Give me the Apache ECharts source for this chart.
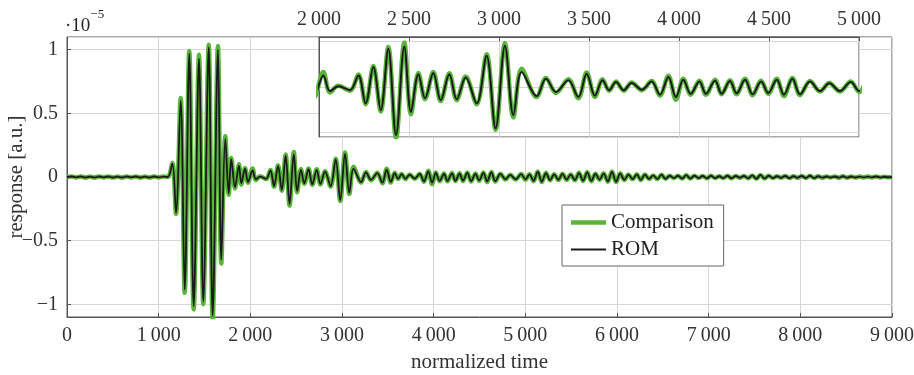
<!DOCTYPE html>
<html>
<head>
<meta charset="utf-8">
<script src="https://cdn.jsdelivr.net/npm/echarts@6/dist/echarts.min.js"></script>
<style>
  html, body { margin: 0; padding: 0; background: #fff; }
  #main { width: 914px; height: 375px; }
</style>
</head>
<body>
<div id="main"></div>
<script>
// response values are in units of 1e-5 (see the ·10^-5 mark)
// extrema, segment by segment
var time = [
  // quiet start
  0, 50, 100, 150, 200, 250, 300, 350, 400, 450, 500, 550, 600, 650, 700, 750, 800, 850, 900, 950, 1000, 1050, 1100,
  // main burst
  1149, 1189, 1240, 1284, 1334, 1382, 1440, 1487, 1546, 1589, 1647, 1683, 1727, 1764, 1792, 1833, 1876, 1902, 1942, 1975,
  // inset part
  2024, 2061, 2107, 2172, 2219, 2259, 2302, 2343, 2385, 2428,
  2474, 2511, 2552, 2589, 2635, 2676, 2724, 2765, 2815, 2876,
  2931, 2981, 3033, 3080, 3126, 3209, 3261, 3317, 3385, 3441,
  3487, 3533, 3575, 3612, 3650, 3693, 3737, 3793, 3848, 3894,
  3941, 3983, 4024, 4065, 4113, 4150, 4200, 4237, 4283, 4320,
  4367, 4409, 4456, 4496, 4543, 4583, 4630, 4672, 4728, 4783,
  4835, 4894, 4954, 5002,
  // tail
  5045, 5090, 5135, 5180, 5225, 5270, 5315, 5360, 5405, 5450,
  5495, 5540, 5585, 5630, 5675, 5720, 5765, 5810, 5855, 5900,
  5945, 5990, 6035, 6080, 6125, 6170, 6215, 6260, 6305, 6350,
  6395, 6440, 6485, 6530, 6575, 6620, 6665, 6710, 6755, 6800,
  6845, 6890, 6935, 6980, 7025, 7070, 7115, 7160, 7205, 7250,
  7295, 7340, 7385, 7430, 7475, 7520, 7565, 7610, 7655, 7700,
  7745, 7790, 7835, 7880, 7925, 7970, 8015, 8060, 8105, 8150,
  8195, 8240, 8285, 8330, 8375, 8420, 8465, 8510, 8555, 8600,
  8645, 8690, 8735, 8780, 8825, 8870, 8915, 8960, 9000
];

var rom = [
  0, 0.004, -0.003, 0.004, -0.004, 0.003, -0.004, 0.004, -0.003, 0.004, -0.004, 0.003, -0.004, 0.004, -0.003, 0.004, -0.004, 0.003, -0.004, 0.004, -0.003, 0.003, 0,
  0.105, -0.28, 0.6, -0.885, 0.97, -1.015, 0.93, -0.977, 1.02, -1.09, 1.0, -0.65, 0.3, -0.13, 0.14, -0.08, 0.09, -0.05, 0.065, -0.04,
  0.051, -0.018, 0.003, -0.014, 0.051, -0.072, 0.088, -0.102, 0.168, -0.212,
  0.178, -0.110, 0.056, -0.050, 0.062, -0.058, 0.056, -0.054, 0.042, -0.072,
  0.138, -0.182, 0.182, -0.124, 0.066, -0.040, 0.036, -0.022, 0.030, -0.044,
  0.058, -0.038, 0.030, -0.014, 0.022, -0.014, 0.018, -0.012, 0.024, -0.034,
  0.044, -0.044, 0.032, -0.030, 0.024, -0.030, 0.028, -0.030, 0.026, -0.028,
  0.032, -0.032, 0.024, -0.026, 0.032, -0.034, 0.036, -0.032, 0.024, -0.018,
  0.016, -0.018, 0.022, -0.018,
  0.020, -0.030, 0.040, -0.036, 0.030, -0.024, 0.020, -0.022, 0.024, -0.020,
  0.018, -0.024, 0.030, -0.028, 0.036, -0.030, 0.024, -0.020, 0.026, -0.034,
  0.040, -0.036, 0.026, -0.022, 0.018, -0.016, 0.020, -0.022, 0.018, -0.014,
  0.012, -0.016, 0.018, -0.014, 0.010, -0.008, 0.010, -0.012, 0.014, -0.012,
  0.010, -0.008, 0.008, -0.010, 0.010, -0.008, 0.006, -0.008, 0.010, -0.010,
  0.008, -0.006, 0.008, -0.010, 0.012, -0.014, 0.016, -0.012, 0.010, -0.008,
  0.006, -0.006, 0.008, -0.008, 0.006, -0.006, 0.008, -0.008, 0.010, -0.008,
  0.006, -0.005, 0.004, -0.004, 0.004, -0.005, 0.006, -0.005, 0.004, -0.004,
  0.003, -0.003, 0.003, -0.003, 0.004, -0.003, 0.002, -0.002, 0
];

var comparison = [
  0, 0.004, -0.003, 0.004, -0.004, 0.003, -0.004, 0.004, -0.003, 0.004, -0.004, 0.003, -0.004, 0.004, -0.003, 0.004, -0.004, 0.003, -0.004, 0.004, -0.003, 0.003, 0,
  0.11, -0.29, 0.62, -0.91, 0.99, -1.04, 0.96, -1.0, 1.04, -1.12, 1.03, -0.68, 0.32, -0.14, 0.15, -0.09, 0.10, -0.06, 0.07, -0.045,
  0.066, -0.024, 0.005, -0.016, 0.055, -0.076, 0.092, -0.108, 0.176, -0.225,
  0.196, -0.120, 0.062, -0.054, 0.066, -0.062, 0.060, -0.058, 0.046, -0.076,
  0.144, -0.188, 0.192, -0.134, 0.080, -0.044, 0.040, -0.026, 0.034, -0.050,
  0.064, -0.044, 0.034, -0.016, 0.024, -0.016, 0.020, -0.014, 0.026, -0.038,
  0.050, -0.056, 0.036, -0.034, 0.028, -0.034, 0.032, -0.032, 0.030, -0.032,
  0.036, -0.036, 0.028, -0.030, 0.036, -0.040, 0.040, -0.036, 0.026, -0.020,
  0.018, -0.020, 0.024, -0.022,
  0.022, -0.033, 0.044, -0.040, 0.033, -0.026, 0.022, -0.024, 0.026, -0.022,
  0.020, -0.026, 0.033, -0.031, 0.040, -0.033, 0.026, -0.022, 0.029, -0.037,
  0.044, -0.040, 0.029, -0.024, 0.020, -0.018, 0.022, -0.024, 0.020, -0.016,
  0.012, -0.016, 0.018, -0.014, 0.010, -0.008, 0.010, -0.012, 0.014, -0.012,
  0.010, -0.008, 0.008, -0.010, 0.010, -0.008, 0.006, -0.008, 0.010, -0.010,
  0.008, -0.006, 0.008, -0.010, 0.012, -0.014, 0.016, -0.012, 0.010, -0.008,
  0.006, -0.006, 0.008, -0.008, 0.006, -0.006, 0.008, -0.008, 0.010, -0.008,
  0.006, -0.005, 0.004, -0.004, 0.004, -0.005, 0.006, -0.005, 0.004, -0.004,
  0.003, -0.003, 0.003, -0.003, 0.004, -0.003, 0.002, -0.002, 0
];

var mainXRange = [0, 9000];
var mainYRange = [-1.1, 1.1];
var insetXRange = [2000, 5000];
var insetYRange = [-0.22, 0.22];

var font = 'Liberation Serif';
var green = '#5ab43c';
var black = '#1a1a1a';
var gridGray = '#d6d6d6';
var boxGray = '#555';

function pairs(vals) {
    return time.map(function (t, i) {
        return [t, vals[i]];
    });
}

function fmtX(v) {
    if (v < 1000) return '' + v;
    var k = Math.floor(v / 1000);
    var rest = ('' + (v % 1000 + 1000)).slice(1);
    return k + '\u2009' + rest;
}

function fmtY(v) {
    if (Math.abs(v * 2 - Math.round(v * 2)) > 1e-6) return '';
    var r = Math.round(v * 2) / 2;
    return r < 0 ? '\u2212' + (-r) : '' + r;
}

function lineSeries(name, vals, color, width, axis, z) {
    return {
        name: name,
        type: 'line',
        xAxisIndex: axis,
        yAxisIndex: axis,
        data: pairs(vals),
        symbol: 'none',
        showSymbol: false,
        smooth: 0.35,
        silent: true,
        z: z,
        lineStyle: { color: color, width: width },
        itemStyle: { color: color, borderWidth: 0 }
    };
}

var myChart = echarts.init(document.getElementById('main'));

var option = {
    animation: false,
    backgroundColor: '#fff',
    title: {
        text: '{a|\u00b710}{b|\u22125}',
        left: 65,
        top: 8,
        padding: 0,
        textStyle: {
            fontWeight: 'normal',
            rich: {
                a: { fontSize: 19, fontFamily: font, fontWeight: 'normal', color: '#222', lineHeight: 28, verticalAlign: 'bottom' },
                b: { fontSize: 13, fontFamily: font, fontWeight: 'normal', color: '#222', lineHeight: 13, verticalAlign: 'top' }
            }
        }
    },
    legend: {
        orient: 'vertical',
        left: 562,
        top: 205,
        padding: [7, 10, 6, 9],
        itemGap: 6,
        itemWidth: 35,
        itemHeight: 14,
        itemStyle: { borderWidth: 0 },
        backgroundColor: '#fff',
        borderColor: '#666',
        borderWidth: 1,
        borderRadius: 0,
        z: 20,
        textStyle: { fontFamily: font, fontSize: 21, color: '#222', lineHeight: 21 },
        data: [
            { name: 'Comparison', icon: 'path://M0,0H35V4.5H0Z' },
            { name: 'ROM', icon: 'path://M0,0H35V1.8H0Z' }
        ]
    },
    grid: [
        {
            left: 67, width: 825, top: 37, height: 280,
            show: true, borderColor: boxGray, borderWidth: 1,
            backgroundColor: 'transparent',
            outerBoundsMode: 'none', containLabel: false
        },
        {
            left: 319, width: 540, top: 37, height: 100,
            show: true, borderColor: boxGray, borderWidth: 1,
            backgroundColor: '#fff',
            outerBoundsMode: 'none', containLabel: false,
            z: 3
        }
    ],
    xAxis: [
        {
            type: 'value', gridIndex: 0,
            min: mainXRange[0], max: mainXRange[1], interval: 1000,
            name: 'normalized time', nameLocation: 'middle', nameGap: 35, nameMoveOverlap: false,
            nameTextStyle: { fontFamily: font, fontSize: 21, color: '#333' },
            axisLine: { show: true, onZero: false, lineStyle: { color: boxGray, width: 1 } },
            axisTick: { show: true, inside: true, length: 4, lineStyle: { color: boxGray } },
            axisLabel: { fontFamily: font, fontSize: 20, color: '#333', margin: 9, formatter: fmtX },
            splitLine: { show: true, lineStyle: { color: gridGray, width: 1 } }
        },
        {
            type: 'value', gridIndex: 1, position: 'top',
            min: insetXRange[0], max: insetXRange[1], interval: 500,
            z: 4,
            axisLine: { show: true, onZero: false, lineStyle: { color: boxGray, width: 1 } },
            axisTick: { show: true, inside: true, length: 4, lineStyle: { color: boxGray } },
            axisLabel: { fontFamily: font, fontSize: 20, color: '#333', margin: 7, formatter: fmtX },
            splitLine: { show: true, lineStyle: { color: gridGray, width: 1 } }
        }
    ],
    yAxis: [
        {
            type: 'value', gridIndex: 0,
            min: mainYRange[0], max: mainYRange[1], splitNumber: 5,
            name: 'response [a.u.]', nameLocation: 'middle', nameRotate: 90, nameGap: 40, nameMoveOverlap: false,
            nameTextStyle: { fontFamily: font, fontSize: 21, color: '#333' },
            axisLine: { show: true, onZero: false, lineStyle: { color: boxGray, width: 1 } },
            axisTick: { show: true, inside: true, length: 4, lineStyle: { color: boxGray } },
            axisLabel: {
                fontFamily: font, fontSize: 20, color: '#333', margin: 9,
                showMinLabel: false, showMaxLabel: false, formatter: fmtY
            },
            splitLine: { show: true, lineStyle: { color: gridGray, width: 1 } }
        },
        {
            type: 'value', gridIndex: 1,
            min: insetYRange[0], max: insetYRange[1], splitNumber: 2,
            z: 4,
            axisLine: { show: true, onZero: false, lineStyle: { color: boxGray, width: 1 } },
            axisTick: { show: false },
            axisLabel: { show: false },
            splitLine: { show: true, lineStyle: { color: gridGray, width: 1 } }
        }
    ],
    series: [
        lineSeries('Comparison', comparison, green, 4.5, 0, 2),
        lineSeries('ROM', rom, black, 1.8, 0, 3),
        lineSeries('Comparison', comparison, green, 4.5, 1, 6),
        lineSeries('ROM', rom, black, 2, 1, 7)
    ]
};

myChart.setOption(option);
</script>
</body>
</html>
